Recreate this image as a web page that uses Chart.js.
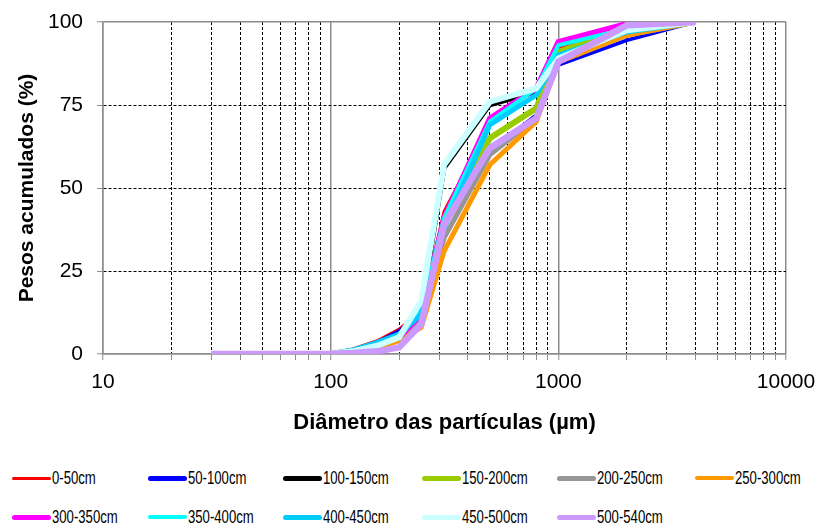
<!DOCTYPE html>
<html>
<head>
<meta charset="utf-8">
<script src="https://cdn.jsdelivr.net/npm/chart.js@4.4.1/dist/chart.umd.min.js"></script>
<style>
  html, body { margin: 0; padding: 0; background: #fff; }
  #wrap { position: relative; width: 820px; height: 524px; overflow: hidden; }
  #c { position: absolute; left: 0; top: 0; }
  #legend { position: absolute; left: 0; top: 460px; width: 820px; height: 64px; }
  .item { position: absolute; height: 22px; display: flex; align-items: center;
          font-family: "Liberation Sans", Arial, sans-serif;
          font-size: 18px; color: #000; white-space: nowrap; }
  .swatch { width: 39px; border-radius: 3px; margin-right: 1px; flex: none; }
  .txt { display: inline-block; transform: scaleX(0.73); transform-origin: left center; }
</style>
</head>
<body>
<div id="wrap">
  <canvas id="c" width="820" height="445"></canvas>
  <div id="legend"></div>
</div>
<script>
// ---- data ----
const diameters = [30, 100, 125, 160, 200, 250, 315, 500, 800, 1000, 2000, 4000];
const seriesNames = ["0-50cm", "50-100cm", "100-150cm", "150-200cm", "200-250cm", "250-300cm",
                     "300-350cm", "350-400cm", "400-450cm", "450-500cm", "500-540cm"];
const s0_50    = [0, 0, 1.5, 4.0, 7.5, 13, 43, 69, 78, 92, 97.5, 100];
const s50_100  = [0, 0, 1.2, 3.5, 7.0, 12, 40, 61, 72, 87, 94.5, 100];
const s100_150 = [0, 0, 1.0, 3.0, 6.0, 13, 56, 75, 79, 91, 97, 100];
const s150_200 = [0, 0, 1.0, 3.0, 5.0, 11, 40, 65, 74, 91, 98, 100];
const s200_250 = [0, 0, 0.8, 2.5, 5.0, 10, 35, 60, 71, 88, 96, 100];
const s250_300 = [0, 0, 0.5, 2.0, 4.0, 8, 31, 57, 70, 88, 96, 100];
const s300_350 = [0, 0, 1.0, 3.0, 5.0, 12, 41, 71, 80, 94, 99.5, 100];
const s350_400 = [0, 0, 1.0, 3.0, 5.0, 13, 41, 70, 80, 93, 98, 100];
const s400_450 = [0, 0, 1.2, 3.5, 6.0, 12, 38, 69, 78, 90, 97, 100];
const s450_500 = [0, 0, 0.8, 2.5, 5.0, 16, 57, 76, 80, 89, 97.5, 100];
const s500_540 = [0, 0, 0.3, 0.8, 2.0, 9, 39, 62, 71, 88, 99, 100];
const seriesValues = [s0_50, s50_100, s100_150, s150_200, s200_250, s250_300,
                      s300_350, s350_400, s400_450, s450_500, s500_540];
const xTickValues = [10,20,30,40,50,60,70,80,90,100,200,300,400,500,600,700,800,900,
                     1000,2000,3000,4000,5000,6000,7000,8000,9000,10000];
const xTickLabels = [10, 100, 1000, 10000];
const yTickValues = [0, 25, 50, 75, 100];

// ---- styles ----
const colors = ["#FF0000", "#0000FF", "#000000", "#99CC00", "#969696", "#FF9900",
                "#FF00FF", "#00FFFF", "#00CCFF", "#CCFFFF", "#CC99FF"];
const widths = [3, 3.5, 4.5, 6, 5, 5, 5.5, 4, 5, 6, 6.5];
const legendWidths = [3, 5, 5, 5, 5, 4, 5, 4, 5, 5, 5];

const datasets = seriesValues.map((vals, i) => ({
  label: seriesNames[i],
  data: diameters.map((d, j) => ({ x: d, y: vals[j] })),
  borderColor: colors[i],
  backgroundColor: colors[i],
  borderWidth: widths[i],
  pointRadius: 0,
  pointHoverRadius: 0,
  tension: 0,
  fill: false,
  order: seriesValues.length - i
}));

const isMajorX = v => xTickLabels.includes(v);
const isEdgeY = v => v === 0 || v === 100;
const GRAY = "#8c8c8c";

new Chart(document.getElementById("c"), {
  type: "line",
  data: { datasets },
  options: {
    responsive: false,
    animation: false,
    events: [],
    layout: { padding: { top: 22, right: 34, left: 0, bottom: 0 } },
    plugins: { legend: { display: false }, tooltip: { enabled: false } },
    scales: {
      x: {
        type: "logarithmic",
        min: 10, max: 10000,
        afterBuildTicks: s => { s.ticks = xTickValues.map(v => ({ value: v })); },
        afterFit: s => { s.height = 91; s.paddingLeft = 0; s.paddingRight = 0; },
        ticks: {
          autoSkip: false, maxRotation: 0, minRotation: 0, padding: 10,
          color: "#000",
          font: { family: "Liberation Sans, Arial, sans-serif", size: 21 },
          callback: v => isMajorX(v) ? String(v) : ""
        },
        grid: {
          color: c => (c.tick && isMajorX(c.tick.value)) ? GRAY : "#000",
          lineWidth: c => (c.tick && isMajorX(c.tick.value)) ? 1.5 : 1,
          tickColor: GRAY, tickLength: 6, tickWidth: 1
        },
        border: {
          color: GRAY, width: 1.5,
          dash: c => (c.tick && !isMajorX(c.tick.value)) ? [3, 2] : []
        },
        title: {
          display: true, text: "Diâmetro das partículas (µm)", color: "#000",
          font: { family: "Liberation Sans, Arial, sans-serif", size: 22, weight: "bold" },
          padding: { top: 0, bottom: 9 }
        }
      },
      y: {
        type: "linear",
        min: 0, max: 100,
        afterBuildTicks: s => { s.ticks = yTickValues.map(v => ({ value: v })); },
        afterFit: s => { s.width = 103; s.paddingTop = 0; s.paddingBottom = 0; },
        ticks: {
          padding: 14, color: "#000",
          font: { family: "Liberation Sans, Arial, sans-serif", size: 21 }
        },
        grid: {
          color: c => (c.tick && isEdgeY(c.tick.value)) ? GRAY : "#000",
          lineWidth: c => (c.tick && isEdgeY(c.tick.value)) ? 1.5 : 1,
          tickColor: GRAY, tickLength: 6, tickWidth: 1
        },
        border: {
          color: GRAY, width: 1.5,
          dash: c => (c.tick && !isEdgeY(c.tick.value)) ? [3, 2] : []
        },
        title: {
          display: true, text: "Pesos acumulados (%)", color: "#000",
          font: { family: "Liberation Sans, Arial, sans-serif", size: 21, weight: "bold" },
          padding: { top: 15, bottom: 0 }
        }
      }
    }
  }
});

// ---- legend (HTML, grid of 6 columns) ----
const legendCols = [12, 148, 283, 422, 557, 695];
const legendRows = [7, 46];
const legendEl = document.getElementById("legend");
seriesNames.forEach((name, i) => {
  const item = document.createElement("div");
  item.className = "item";
  item.style.left = legendCols[i % 6] + "px";
  item.style.top = legendRows[Math.floor(i / 6)] + "px";
  const sw = document.createElement("span");
  sw.className = "swatch";
  sw.style.background = colors[i];
  sw.style.height = legendWidths[i] + "px";
  const tx = document.createElement("span");
  tx.className = "txt";
  tx.textContent = name;
  item.appendChild(sw);
  item.appendChild(tx);
  legendEl.appendChild(item);
});
</script>
</body>
</html>
